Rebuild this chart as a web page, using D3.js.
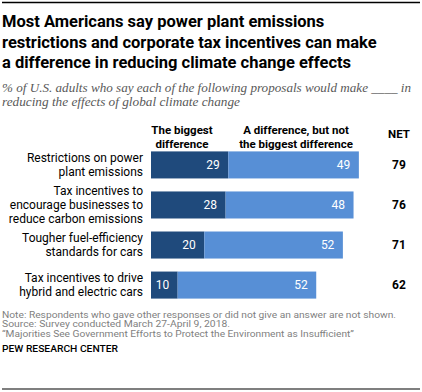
<!DOCTYPE html>
<html><head><meta charset="utf-8">
<script src="https://cdn.jsdelivr.net/npm/d3@7"></script>
<style>body{margin:0;background:#fff}svg{display:block}</style>
</head><body>
<script>
const categories = [
  ["Restrictions on power", "plant emissions"],
  ["Tax incentives to", "encourage businesses to", "reduce carbon emissions"],
  ["Tougher fuel-efficiency", "standards for cars"],
  ["Tax incentives to drive", "hybrid and electric cars"]
];
const biggest = [29, 28, 20, 10];
const notBiggest = [49, 48, 52, 52];
const net = [79, 76, 71, 62];
const seriesNames = [["The biggest", "difference"], ["A difference,  but not", "the biggest difference"]];

const W = 422, H = 392;
const svg = d3.select("body").append("svg").attr("width", W).attr("height", H);
const sans = "Roboto, 'Liberation Sans', Arial, sans-serif";

svg.append("line").attr("x1", 2).attr("x2", 420).attr("y1", 2.5).attr("y2", 2.5).attr("stroke", "#000").attr("stroke-width", 1.5);
svg.append("line").attr("x1", 2).attr("x2", 420).attr("y1", 389).attr("y2", 389).attr("stroke", "#000").attr("stroke-width", 1.2);

const title = ["Most Americans say power plant emissions", "restrictions and corporate tax incentives can make", "a difference in reducing climate change effects"];
title.forEach((t, i) => svg.append("text").attr("x", 2).attr("y", 27 + i * 20.5).text(t)
  .attr("font-family", sans).attr("font-weight", "bold").attr("font-size", 16.5).attr("fill", "#000"));

const sub = ["% of U.S. adults who say each of the following proposals would make ____ in", "reducing the effects of global climate change"];
const subLens = [409, 238];
sub.forEach((t, i) => svg.append("text").attr("x", 2).attr("y", 92 + i * 13.5).text(t)
  .attr("font-family", "'Liberation Serif', Georgia, serif").attr("font-style", "italic").attr("font-size", 12)
  .attr("fill", "#595959").attr("textLength", subLens[i]).attr("lengthAdjust", "spacingAndGlyphs"));

const x = d3.scaleLinear().domain([0, 100]).range([151, 417.5]);
const y = d3.scaleBand().domain(d3.range(categories.length)).range([145, 305]).paddingInner(0.325).paddingOuter(0.16);

// headers
const hdrX = [182, 296];
seriesNames.forEach((lines, s) => lines.forEach((l, i) => svg.append("text").attr("x", hdrX[s]).attr("y", 134 + i * 14).text(l)
  .attr("text-anchor", "middle").attr("font-family", sans).attr("font-weight", "bold").attr("font-size", 11.5).attr("fill", "#000")));
svg.append("text").attr("x", 399).attr("y", 138).text("NET").attr("text-anchor", "middle")
  .attr("font-family", sans).attr("font-weight", "bold").attr("font-size", 11.5);

const g = svg.append("g");
categories.forEach((lines, i) => {
  const yc = y(i) + y.bandwidth() / 2;
  const lh = 13.7;
  const y0 = yc - (lines.length - 1) * lh / 2;
  lines.forEach((l, j) => g.append("text").attr("x", 143).attr("y", y0 + j * lh).attr("dy", "0.35em").text(l)
    .attr("text-anchor", "end").attr("font-family", sans).attr("font-size", 12).attr("fill", "#000"));

  g.append("rect").attr("x", x(0)).attr("y", y(i)).attr("width", x(biggest[i]) - x(0)).attr("height", y.bandwidth()).attr("fill", "#1f4a7c");
  g.append("rect").attr("x", x(biggest[i])).attr("y", y(i)).attr("width", x(biggest[i] + notBiggest[i]) - x(biggest[i])).attr("height", y.bandwidth()).attr("fill", "#578fd6");
  g.append("text").attr("x", x(biggest[i]) - 8.5).attr("y", yc).attr("dy", "0.35em").text(biggest[i])
    .attr("text-anchor", "end").attr("font-family", sans).attr("font-size", 12).attr("fill", "#fff");
  g.append("text").attr("x", x(biggest[i] + notBiggest[i]) - 8.5).attr("y", yc).attr("dy", "0.35em").text(notBiggest[i])
    .attr("text-anchor", "end").attr("font-family", sans).attr("font-size", 12).attr("fill", "#fff");
  g.append("text").attr("x", 399).attr("y", yc).attr("dy", "0.35em").text(net[i]).attr("text-anchor", "middle")
    .attr("font-family", sans).attr("font-weight", "bold").attr("font-size", 12).attr("fill", "#000");
});

const notes = ["Note: Respondents who gave other responses or did not give an answer are not shown.",
  "Source: Survey conducted March 27-April 9, 2018.",
  "\u201cMajorities See Government Efforts to Protect the Environment as Insufficient\u201d"];
const noteLens = [394, 228, 352];
notes.forEach((t, i) => svg.append("text").attr("x", 2).attr("y", 317.5 + i * 9.8).text(t)
  .attr("font-family", sans).attr("font-size", 9.5).attr("fill", "#7f7f7f").attr("textLength", noteLens[i]).attr("lengthAdjust", "spacingAndGlyphs"));
svg.append("text").attr("x", 2).attr("y", 352).text("PEW RESEARCH CENTER")
  .attr("font-family", sans).attr("font-size", 9.5).attr("fill", "#000").attr("font-weight", "500")
  .attr("textLength", 116).attr("lengthAdjust", "spacingAndGlyphs");
</script>
</body></html>
